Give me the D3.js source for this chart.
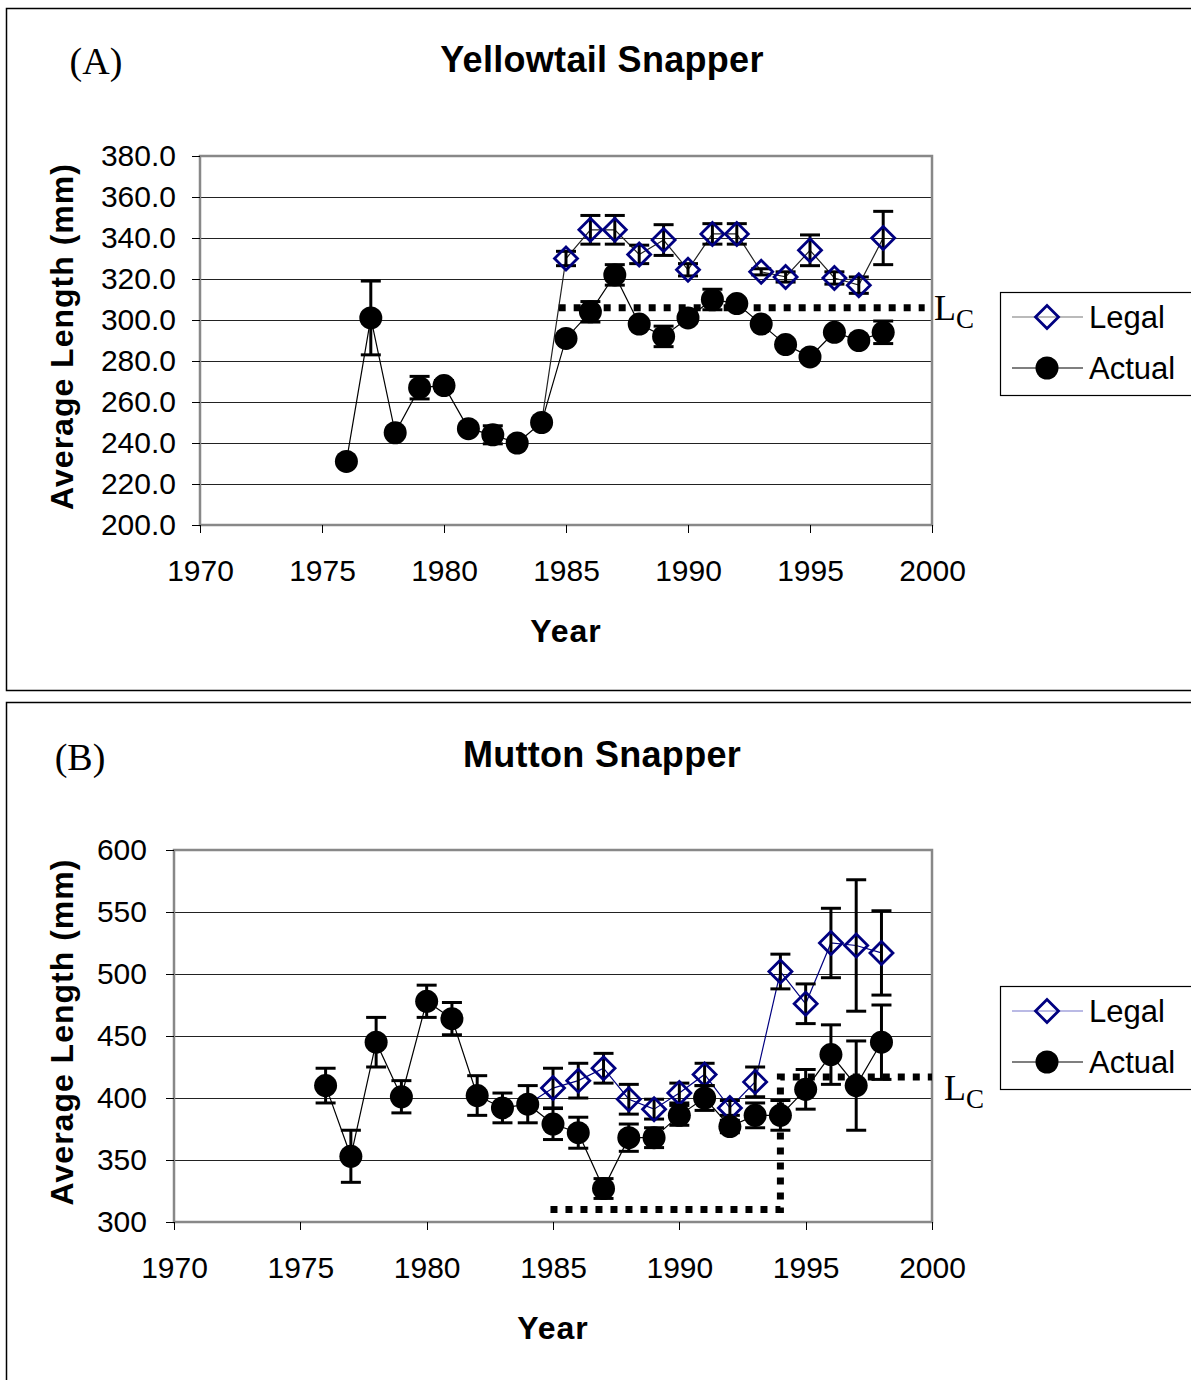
<!DOCTYPE html>
<head>
<meta charset="utf-8">
<script src="https://cdnjs.cloudflare.com/ajax/libs/d3/7.8.5/d3.min.js"></script>
<style>
  body { margin: 0; background: #fff; font-family: "Liberation Sans", Arial, sans-serif; }
  .grid line { stroke: #222; stroke-width: 1; shape-rendering: crispEdges; }
  .axis text { font-size: 30px; fill: #000; font-family: "Liberation Sans", Arial, sans-serif; }
  .axis line { stroke: #000; stroke-width: 1; shape-rendering: crispEdges; }
  .axis path { display: none; }
</style>
</head>
<body>
<script>
// ---- data ----
var yearsActual = d3.range(1976, 1999);          // 1976..1998
var yearsLegal = d3.range(1984, 1999);           // legal series starts at the 1984 actual point
var xTicks = [1970, 1975, 1980, 1985, 1990, 1995, 2000];

// (A) Yellowtail snapper
var actualA    = [231, 301, 245, 267, 268, 247, 244, 240, 250, 291, 304, 322, 298, 292, 301, 310, 308, 298, 288, 282, 294, 290, 294];
var actualErrA = [1, 18, 2, 5.5, 2.5, 1, 4.4, 1, 2, 1.5, 5, 5, 2, 5, 2, 5, 2, 1.5, 1.5, 2, 1.5, 1.5, 5.5];
var legalA     = [250, 330, 344, 344, 332, 339, 324.5, 342, 342, 323.5, 321, 334, 320.5, 317, 340];
var legalErrA  = [0, 3.5, 7, 7, 4.5, 7.5, 3, 5, 5, 1.5, 2.5, 7.5, 3, 4, 13];
var yTicksA    = [200, 220, 240, 260, 280, 300, 320, 340, 360, 380];
var lcYearsA   = [1984.7, 1999.7];
var lcValuesA  = [306, 306];

// (B) Mutton snapper
var actualB    = [410, 353, 445, 401, 478, 464, 402, 392, 395, 379, 372, 327, 368, 368, 386, 400, 377, 386, 386, 407, 435, 410, 445];
var actualErrB = [14, 21, 20, 13, 13, 13, 16, 12, 15, 12.5, 12.5, 8, 11, 8, 8, 10, 5, 10, 12, 16, 24, 36, 30];
var legalB     = [395, 408, 414, 424, 399, 391, 404, 419, 392, 413, 502, 476, 525, 523, 517];
var legalErrB  = [0, 16, 14, 12, 12, 8, 8, 9, 6, 12, 14, 16, 28, 53, 34];
var yTicksB    = [300, 350, 400, 450, 500, 550, 600];
var lcYearsB   = [1984.9, 1994, 1994, 2000];
var lcValuesB  = [310, 310, 417, 417];

var seriesNames = ["Legal", "Actual"];

var svg = d3.select("body").append("svg")
    .attr("width", 1191)
    .attr("height", 1380);

var panels = [
    {
        top: 8, bottom: 690, tag: "(A)", tagX: 96, tagY: 74,
        title: "Yellowtail Snapper", titleY: 72,
        x0: 200, x1: 932, y0: 156, y1: 525,
        yTicks: yTicksA, fmt: d3.format(".1f"), yPad: 16,
        actual: actualA, actualErr: actualErrA, legal: legalA, legalErr: legalErrA,
        lcYears: lcYearsA, lcValues: lcValuesA, lcX: 934, lcY: 320,
        legalLine: "#222", legendLegalLine: "#777", legendY: 292
    },
    {
        top: 702, bottom: 1400, tag: "(B)", tagX: 80, tagY: 770,
        title: "Mutton Snapper", titleY: 767,
        x0: 174, x1: 932, y0: 850, y1: 1222,
        yTicks: yTicksB, fmt: d3.format("d"), yPad: 19,
        actual: actualB, actualErr: actualErrB, legal: legalB, legalErr: legalErrB,
        lcYears: lcYearsB, lcValues: lcValuesB, lcX: 944, lcY: 1100,
        legalLine: "#000080", legendLegalLine: "#7777cc", legendY: 986
    }
];

panels.forEach(drawPanel);

function diamond(g, x, y) {
    var s = 11.5;
    g.append("path")
        .attr("d", "M" + x + "," + (y - s) + "L" + (x + s) + "," + y + "L" + x + "," + (y + s) + "L" + (x - s) + "," + y + "Z")
        .attr("fill", "none")
        .attr("stroke", "#000080")
        .attr("stroke-width", 2.8);
}

function drawPanel(p) {
    var g = svg.append("g");

    // outer frame
    g.append("rect")
        .attr("x", 6.5).attr("y", p.top + 0.5)
        .attr("width", 1200).attr("height", p.bottom - p.top)
        .attr("fill", "none").attr("stroke", "#000").attr("stroke-width", 1.5);

    g.append("text").attr("x", p.tagX).attr("y", p.tagY)
        .attr("text-anchor", "middle")
        .style("font-family", "'Liberation Serif', 'Times New Roman', serif")
        .style("font-size", "38px")
        .text(p.tag);

    g.append("text").attr("x", 602).attr("y", p.titleY)
        .attr("text-anchor", "middle")
        .style("font-weight", "bold").style("font-size", "36px")
        .style("letter-spacing", "0.3px")
        .text(p.title);

    var x = d3.scaleLinear().domain([1970, 2000]).range([p.x0, p.x1]);
    var y = d3.scaleLinear().domain([p.yTicks[0], p.yTicks[p.yTicks.length - 1]]).range([p.y1, p.y0]);

    // gridlines
    g.append("g").attr("class", "grid")
        .selectAll("line").data(p.yTicks.slice(1, -1)).enter().append("line")
        .attr("x1", p.x0).attr("x2", p.x1)
        .attr("y1", function(d) { return y(d); })
        .attr("y2", function(d) { return y(d); });

    // plot frame
    g.append("rect")
        .attr("x", p.x0).attr("y", p.y0)
        .attr("width", p.x1 - p.x0).attr("height", p.y1 - p.y0)
        .attr("fill", "none").attr("stroke", "#888").attr("stroke-width", 2.5);

    g.append("g").attr("class", "axis")
        .attr("transform", "translate(" + p.x0 + ",0)")
        .call(d3.axisLeft(y).tickValues(p.yTicks).tickFormat(p.fmt).tickSize(8).tickPadding(p.yPad));

    g.append("g").attr("class", "axis")
        .attr("transform", "translate(0," + p.y1 + ")")
        .call(d3.axisBottom(x).tickValues(xTicks).tickFormat(d3.format("d")).tickSize(8).tickPadding(27));

    // axis titles
    var yc = (p.y0 + p.y1) / 2 - 4;
    g.append("text")
        .attr("transform", "translate(73," + yc + ") rotate(-90)")
        .attr("text-anchor", "middle")
        .style("font-weight", "bold").style("font-size", "32px")
        .style("letter-spacing", "1px")
        .text("Average Length (mm)");

    g.append("text")
        .attr("x", (p.x0 + p.x1) / 2).attr("y", p.y1 + 117)
        .attr("text-anchor", "middle")
        .style("font-weight", "bold").style("font-size", "32px")
        .style("letter-spacing", "1px")
        .text("Year");

    var legalData = yearsLegal.map(function(yr, i) { return { yr: yr, v: p.legal[i], e: p.legalErr[i], i: i }; });
    var actualData = yearsActual.map(function(yr, i) { return { yr: yr, v: p.actual[i], e: p.actualErr[i], i: i }; });

    var line = d3.line().x(function(d) { return x(d.yr); }).y(function(d) { return y(d.v); });

    // Lc dotted line
    var lc = p.lcYears.map(function(yr, i) { return { yr: yr, v: p.lcValues[i] }; });
    g.append("path").datum(lc)
        .attr("d", line)
        .attr("fill", "none").attr("stroke", "#000")
        .attr("stroke-width", 7).attr("stroke-dasharray", "7,8");

    var lcT = g.append("text").attr("x", p.lcX).attr("y", p.lcY)
        .style("font-family", "'Liberation Serif', 'Times New Roman', serif");
    lcT.append("tspan").style("font-size", "36px").text("L");
    lcT.append("tspan").attr("dy", 8).style("font-size", "27px").text("C");

    function errorBars(data) {
        var eb = g.append("g").attr("stroke", "#000").attr("stroke-width", 3);
        data.filter(function(d) { return d.e > 0; }).forEach(function(d) {
            var cx = x(d.yr), top = y(d.v + d.e), bot = y(d.v - d.e);
            eb.append("line").attr("x1", cx).attr("x2", cx).attr("y1", top).attr("y2", bot);
            eb.append("line").attr("x1", cx - 10).attr("x2", cx + 10).attr("y1", top).attr("y2", top);
            eb.append("line").attr("x1", cx - 10).attr("x2", cx + 10).attr("y1", bot).attr("y2", bot);
        });
    }

    // legal series
    g.append("path").datum(legalData)
        .attr("d", line).attr("fill", "none")
        .attr("stroke", p.legalLine).attr("stroke-width", 1.2);
    errorBars(legalData);
    legalData.filter(function(d) { return d.i > 0; }).forEach(function(d) {
        diamond(g, x(d.yr), y(d.v));
    });

    // actual series
    g.append("path").datum(actualData)
        .attr("d", line).attr("fill", "none")
        .attr("stroke", "#000").attr("stroke-width", 1.2);
    errorBars(actualData);
    g.append("g").selectAll("circle").data(actualData).enter().append("circle")
        .attr("cx", function(d) { return x(d.yr); })
        .attr("cy", function(d) { return y(d.v); })
        .attr("r", 11.5).attr("fill", "#000");

    // legend
    var lg = g.append("g");
    lg.append("rect").attr("x", 1000.5).attr("y", p.legendY + 0.5)
        .attr("width", 220).attr("height", 103)
        .attr("fill", "#fff").attr("stroke", "#000").attr("stroke-width", 1.2);
    seriesNames.forEach(function(name, i) {
        var ry = p.legendY + 25 + i * 51;
        lg.append("line").attr("x1", 1012).attr("x2", 1083).attr("y1", ry).attr("y2", ry)
            .attr("stroke", i === 0 ? p.legendLegalLine : "#000").attr("stroke-width", 1.2);
        if (i === 0) diamond(lg, 1047, ry);
        else lg.append("circle").attr("cx", 1047).attr("cy", ry).attr("r", 11.5).attr("fill", "#000");
        lg.append("text").attr("x", 1089).attr("y", ry + 11)
            .style("font-size", "31px").text(name);
    });
}
</script>
</body>
